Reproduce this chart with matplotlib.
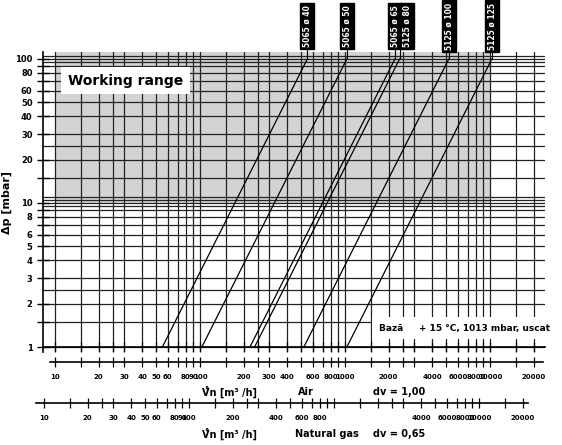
import matplotlib
matplotlib.use("Agg")
import matplotlib.pyplot as plt
import numpy as np

# Data
valves = ["5065 ø 40", "5065 ø 50", "5065 ø 65", "5125 ø 80", "5125 ø 100", "5125 ø 125"]
flow_at_100mbar = [550, 1030, 2210, 2380, 5200, 10300]   # m3/h air at dp=100 mbar
flow_at_1mbar = [55, 103, 221, 238, 520, 1030]           # m3/h air at dp=1 mbar
dp_ends = [1, 100]
ytick_labels = [1, 2, 3, 4, 5, 6, 8, 10, 20, 30, 40, 50, 60, 80, 100]
air_tick_labels = [10, 20, 30, 40, 50, 60, 80, 90, 100, 200, 300, 400, 600, 800, 1000, 2000, 4000, 6000, 8000, 10000, 20000]
gas_tick_labels = [10, 20, 30, 40, 50, 60, 80, 90, 100, 200, 400, 600, 800, 4000, 6000, 8000, 10000, 20000]

W, H = 562, 445
fig = plt.figure(figsize=(W/100, H/100), dpi=100)

def fx(px): return px / W
def fy(py): return 1 - py / H

def dec_grid(lo, hi, mults):
    out = []
    for d in range(0, 6):
        for m in mults:
            v = m * 10**d
            if lo <= v <= hi:
                out.append(v)
    return out

xgrid = dec_grid(10, 20000, [1, 1.5, 2, 2.5, 3, 4, 5, 6, 7, 8, 9])
ygrid = [1, 1.5, 2, 2.5, 3, 4, 5, 6, 7, 8, 9, 9.5, 10, 10.5, 11, 15, 20, 25, 30, 40, 50, 60, 70, 80, 90, 95, 100, 105]

ax = fig.add_axes([fx(43), fy(352), fx(545) - fx(43), fy(52) - fy(352)])
ax.set_xscale("log"); ax.set_yscale("log")
xlo = 10**(1 + (43 - 55) / 145); xhi = 10**(1 + (545 - 55) / 145)
ylo = 10**(-(352 - 347) / 145); yhi = 10**(2 + (59 - 52) / 145)
ax.set_xlim(xlo, xhi); ax.set_ylim(ylo, yhi)
ax.axvspan(10, 10000, ymin=(np.log10(10) - np.log10(ylo)) / (np.log10(yhi) - np.log10(ylo)),
           ymax=1, color="#d3d3d3", zorder=0, lw=0)
for v in xgrid:
    ax.axvline(v, color="#222", lw=0.9, zorder=1)
for v in ygrid:
    ax.axhline(v, color="#222", lw=0.9, zorder=1)
for a, b in zip(flow_at_1mbar, flow_at_100mbar):
    ax.plot([a, b], dp_ends, color="black", lw=0.9, zorder=3)
for s in ["top", "right", "bottom"]:
    ax.spines[s].set_visible(False)
ax.spines["left"].set_linewidth(1.2)
ax.set_xticks([])
ax.set_xticks([], minor=True)
ax.set_yticks(ytick_labels)
ax.set_yticklabels([str(v) for v in ytick_labels], fontsize=6, fontweight="bold")
ax.set_yticks([1.5, 7, 9, 15, 70, 90], minor=True)
ax.yaxis.set_minor_formatter(matplotlib.ticker.NullFormatter())
ax.tick_params(axis="y", which="both", direction="inout", length=8, width=1)
ax.set_ylabel("Δp [mbar]", fontsize=8, fontweight="bold", labelpad=2)

ax.text(0.05, 0.905, "Working range", transform=ax.transAxes, fontsize=10, fontweight="bold",
        va="center", ha="left", bbox=dict(facecolor="white", edgecolor="none", pad=5), zorder=5)
ax.text(0.67, 0.08, "Bază     + 15 °C, 1013 mbar, uscat", transform=ax.transAxes, fontsize=6.5,
        fontweight="bold", va="center", ha="left",
        bbox=dict(facecolor="white", edgecolor="none", pad=5), zorder=5)

label_px = [307, 347, 395, 407, 449, 492]
for name, q, lp in zip(valves, flow_at_100mbar, label_px):
    lx = fx(lp)
    fig.text(lx, fy(26), name, rotation=90, color="white", fontsize=5.5, fontweight="bold",
             ha="center", va="center",
             bbox=dict(facecolor="black", edgecolor="black", pad=1.5))
    xd = ax.transData.transform((q, 100))
    xfig = fig.transFigure.inverted().transform(xd)[0]
    fig.add_artist(plt.Line2D([lx, lx, xfig, xfig], [fy(46), fy(49), fy(49), fy(58)],
                              color="black", lw=0.8))

def scale_axis(py, px0, px1, lo, hi, labels, lw=1.2):
    a = fig.add_axes([fx(px0), fy(py), fx(px1) - fx(px0), 0.0001])
    a.set_xscale("log"); a.set_xlim(lo, hi)
    for s in ["top", "right", "left"]:
        a.spines[s].set_visible(False)
    a.spines["bottom"].set_linewidth(lw)
    a.set_yticks([])
    a.set_xticks(xgrid, minor=True)
    a.set_xticks(labels)
    a.set_xticklabels([str(v) for v in labels], fontsize=5, fontweight="bold")
    a.xaxis.set_minor_formatter(matplotlib.ticker.NullFormatter())
    a.tick_params(axis="x", which="both", direction="inout", length=7, width=0.9, pad=5)
    return a

scale_axis(347, 43, 545, xlo, xhi, [])
air_lo = 10**(1 + (50 - 55) / 145); air_hi = 10**(1 + (543 - 55) / 145)
scale_axis(362, 50, 543, air_lo, air_hi, air_tick_labels)
gas_lo = 10**(1 + (36 - 44) / 145); gas_hi = 10**(1 + (528 - 44) / 145)
scale_axis(403, 36, 528, gas_lo, gas_hi, gas_tick_labels)

fig.text(fx(202), fy(392), "V\u030An [m³ /h]", fontsize=7, fontweight="bold", va="center")
fig.text(fx(298), fy(392), "Air", fontsize=7, fontweight="bold", va="center")
fig.text(fx(373), fy(392), "dv = 1,00", fontsize=7, fontweight="bold", va="center")
fig.text(fx(202), fy(434), "V\u030An [m³ /h]", fontsize=7, fontweight="bold", va="center")
fig.text(fx(295), fy(434), "Natural gas", fontsize=7, fontweight="bold", va="center")
fig.text(fx(373), fy(434), "dv = 0,65", fontsize=7, fontweight="bold", va="center")

fig.savefig("out.png", dpi=100)
